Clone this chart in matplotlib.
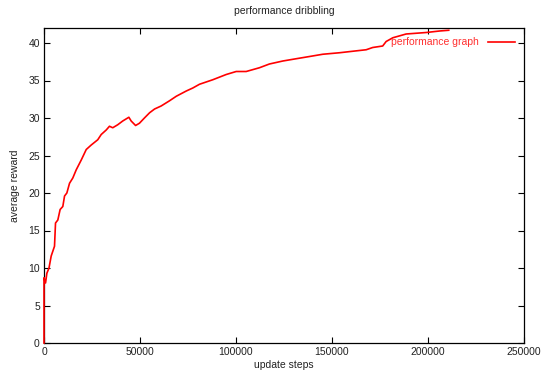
import matplotlib
matplotlib.use('Agg')
import matplotlib.pyplot as plt

# values
steps = [0, 0, 800, 1500, 2600, 3750, 5470, 6000, 7200, 8400, 9800, 10700,
         11900, 13300, 15000, 16800, 19400, 22000, 24600, 28000, 29800,
         32400, 34100, 35800, 38400, 41000, 44200, 45400, 47700, 49700,
         52300, 55000, 57600, 61000, 65400, 68900, 74100, 77500, 81000,
         87900, 94900, 100100, 105300, 112200, 117400, 124400, 131300,
         138300, 145200, 153900, 160800, 167800, 171200, 176400, 178200,
         181700, 188600, 199100, 206000, 210800]
reward = [0, 8.7, 8.0, 9.3, 10.0, 11.6, 12.9, 16.0, 16.4, 17.8, 18.2, 19.6,
          20.0, 21.3, 22.0, 23.1, 24.4, 25.8, 26.4, 27.1, 27.8,
          28.4, 28.9, 28.7, 29.1, 29.6, 30.1, 29.6, 29.0, 29.3,
          30.0, 30.7, 31.2, 31.6, 32.3, 32.9, 33.6, 34.0, 34.5,
          35.1, 35.8, 36.2, 36.2, 36.7, 37.2, 37.6, 37.9,
          38.2, 38.5, 38.7, 38.9, 39.1, 39.4, 39.6, 40.2,
          40.7, 41.2, 41.4, 41.6, 41.7]

xticks = [0, 50000, 100000, 150000, 200000, 250000]
yticks = [0, 5, 10, 15, 20, 25, 30, 35, 40]

plt.rcParams['font.family'] = ['Liberation Sans', 'DejaVu Sans']
plt.rcParams['font.size'] = 7.5

fig = plt.figure(figsize=(5.42, 3.78), dpi=100)
ax = fig.add_axes([44 / 542, 1 - 343 / 378, (524 - 44) / 542, (343 - 28) / 378])

ax.plot(steps, reward, color='red', linewidth=1.2, label='performance graph',
        clip_on=False, zorder=5)

ax.set_xlim(0, 250000)
ax.set_ylim(0, 42)
ax.set_xticks(xticks)
ax.set_xticklabels([str(t) for t in xticks])
ax.set_yticks(yticks)
ax.tick_params(direction='in', top=True, right=True, length=4, width=0.8,
               colors='black', labelcolor='#222222', pad=3)
for s in ax.spines.values():
    s.set_linewidth(0.9)

ax.set_xlabel('update steps', color='#222222', labelpad=2)
ax.set_ylabel('average reward', color='#222222', labelpad=6)
ax.set_title('performance dribbling', color='#222222', pad=10, fontsize=7.5)

leg = ax.legend(loc='upper right', frameon=False, markerfirst=False,
                handlelength=2.6, borderaxespad=0.5, labelcolor='#ff3030',
                handletextpad=0.8)

fig.savefig('out.png', dpi=100)
